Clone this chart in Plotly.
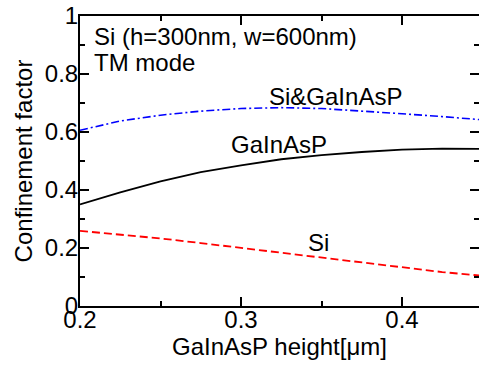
import plotly.graph_objects as go

# Data
height_um = [0.2, 0.225, 0.25, 0.275, 0.3, 0.325, 0.35, 0.375, 0.4, 0.425, 0.45]
si_gainasp = [0.606, 0.638, 0.658, 0.672, 0.681, 0.684, 0.681, 0.673, 0.663, 0.653, 0.642]
gainasp = [0.350, 0.392, 0.430, 0.462, 0.485, 0.506, 0.520, 0.531, 0.539, 0.543, 0.542]
si = [0.259, 0.246, 0.233, 0.217, 0.200, 0.183, 0.166, 0.149, 0.132, 0.117, 0.104]

x_ticks = [0.2, 0.3, 0.4]
y_ticks = [0, 0.2, 0.4, 0.6, 0.8, 1]

FONT = "Liberation Sans, Arial, sans-serif"
FS = 24

fig = go.Figure()
fig.add_trace(go.Scatter(x=height_um, y=si_gainasp, mode="lines",
                         line=dict(color="#0000ff", width=1.6, dash="8px,3px,2px,3px"),
                         showlegend=False))
fig.add_trace(go.Scatter(x=height_um, y=gainasp, mode="lines",
                         line=dict(color="black", width=1.8), showlegend=False))
fig.add_trace(go.Scatter(x=height_um, y=si, mode="lines",
                         line=dict(color="#ff0000", width=1.8, dash="8px,4px"),
                         showlegend=False))

ann_font = dict(family=FONT, size=FS, color="black")
annotations = [
    dict(x=0.3588, y=0.7214, text="Si&GaInAsP", xanchor="center", yanchor="middle"),
    dict(x=0.3236, y=0.556, text="GaInAsP", xanchor="center", yanchor="middle"),
    dict(x=0.3481, y=0.218, text="Si", xanchor="center", yanchor="middle"),
    dict(x=0.2075, y=0.929, text="Si (h=300nm, w=600nm)", xanchor="left", yanchor="middle"),
    dict(x=0.2075, y=0.839, text="TM mode", xanchor="left", yanchor="middle"),
]
for a in annotations:
    a.update(xref="x", yref="y", showarrow=False, font=ann_font)

fig.update_layout(
    width=479, height=365,
    margin=dict(l=80, r=0, t=16, b=59, pad=0),
    paper_bgcolor="white", plot_bgcolor="white",
    font=dict(family=FONT, size=FS, color="black"),
    annotations=annotations,
    xaxis=dict(
        range=[0.2, 0.4478], tickvals=x_ticks, ticktext=[str(v) for v in x_ticks],
        ticks="inside", ticklen=9, tickwidth=1.5, tickcolor="black",
        showline=True, linewidth=2, linecolor="black", mirror="ticks",
        showgrid=False, zeroline=False, ticklabelstandoff=-9,
        minor=dict(dtick=0.05, tick0=0.2, ticks="inside", ticklen=5, tickwidth=1.5, tickcolor="black"),
        tickfont=dict(family=FONT, size=FS),
        title=dict(text="GaInAsP height[μm]", font=dict(family=FONT, size=FS), standoff=4),
    ),
    yaxis=dict(
        range=[0, 1], tickvals=y_ticks, ticktext=["0", "0.2", "0.4", "0.6", "0.8", "1"],
        ticks="inside", ticklen=9, tickwidth=1.5, tickcolor="black",
        showline=True, linewidth=2, linecolor="black", mirror=False,
        showgrid=False, zeroline=False, ticklabelstandoff=-5,
        minor=dict(dtick=0.1, tick0=0, ticks="inside", ticklen=5, tickwidth=1.5, tickcolor="black"),
        tickfont=dict(family=FONT, size=FS),
        title=dict(text="Confinement factor", font=dict(family=FONT, size=FS), standoff=5),
    ),
    yaxis2=dict(
        range=[0, 1], overlaying="y", side="right", matches="y",
        tickvals=y_ticks, showticklabels=False,
        ticks="inside", ticklen=9, tickwidth=1.5, tickcolor="black",
        showline=False, showgrid=False, zeroline=False,
        minor=dict(dtick=0.1, tick0=0, ticks="inside", ticklen=5, tickwidth=1.5, tickcolor="black"),
    ),
)
fig.add_trace(go.Scatter(x=[None], y=[None], yaxis="y2", showlegend=False, hoverinfo="skip"))

fig.write_html("out.html")
